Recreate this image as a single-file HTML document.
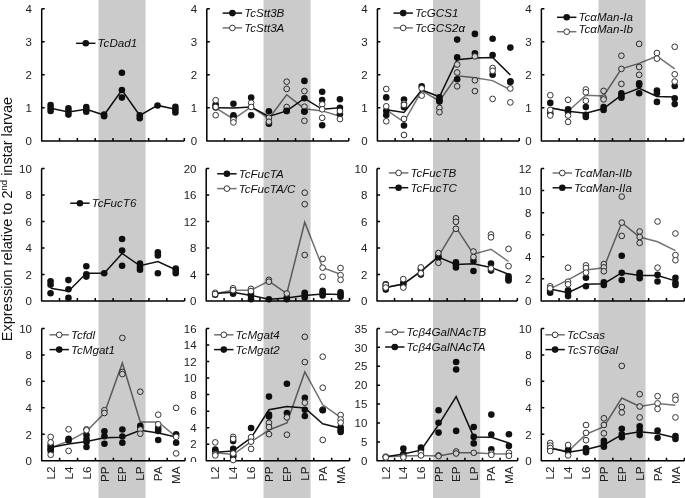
<!DOCTYPE html><html><head><meta charset="utf-8"><style>html,body{margin:0;padding:0;background:#fff;width:685px;height:498px;overflow:hidden}svg{display:block;will-change:transform;filter:blur(0.3px)}text{font-family:"Liberation Sans",sans-serif}</style></head><body>
<svg width="685" height="498" viewBox="0 0 685 498">
<defs><clipPath id="cz"><rect x="180" y="450" width="30" height="12"/></clipPath></defs>
<path d="M41.70,8.70V140.90H184.30M41.70,140.90h3M41.70,107.85h3M41.70,74.80h3M41.70,41.75h3M41.70,8.70h3M59.53,140.90v-3M77.35,140.90v-3M95.18,140.90v-3M113.00,140.90v-3M130.83,140.90v-3M148.65,140.90v-3M166.48,140.90v-3M184.30,140.90v-3" fill="none" stroke="#000" stroke-width="1.5" stroke-linejoin="round"/>
<text x="32.00" y="145.10" font-size="11.5" text-anchor="end" fill="#222">0</text>
<text x="32.00" y="112.05" font-size="11.5" text-anchor="end" fill="#222">1</text>
<text x="32.00" y="79.00" font-size="11.5" text-anchor="end" fill="#222">2</text>
<text x="32.00" y="45.95" font-size="11.5" text-anchor="end" fill="#222">3</text>
<text x="32.00" y="12.90" font-size="11.5" text-anchor="end" fill="#222">4</text>
<polyline points="50.61,108.30 68.44,111.90 86.26,109.30 104.09,115.00 121.91,90.00 139.74,115.40 157.56,105.40 175.39,109.30" fill="none" stroke="#111" stroke-width="1.5"/>
<circle cx="50.61" cy="105.00" r="3.3" fill="#111"/>
<circle cx="50.61" cy="108.00" r="3.3" fill="#111"/>
<circle cx="50.61" cy="111.00" r="3.3" fill="#111"/>
<circle cx="68.44" cy="108.40" r="3.3" fill="#111"/>
<circle cx="68.44" cy="111.50" r="3.3" fill="#111"/>
<circle cx="68.44" cy="114.60" r="3.3" fill="#111"/>
<circle cx="86.26" cy="107.00" r="3.3" fill="#111"/>
<circle cx="86.26" cy="109.40" r="3.3" fill="#111"/>
<circle cx="86.26" cy="111.80" r="3.3" fill="#111"/>
<circle cx="104.09" cy="114.50" r="3.3" fill="#111"/>
<circle cx="104.09" cy="116.30" r="3.3" fill="#111"/>
<circle cx="121.91" cy="72.70" r="3.3" fill="#111"/>
<circle cx="121.91" cy="90.00" r="3.3" fill="#111"/>
<circle cx="121.91" cy="97.60" r="3.3" fill="#111"/>
<circle cx="139.74" cy="115.20" r="3.3" fill="#111"/>
<circle cx="139.74" cy="118.30" r="3.3" fill="#111"/>
<circle cx="157.56" cy="105.50" r="3.3" fill="#111"/>
<circle cx="175.39" cy="106.70" r="3.3" fill="#111"/>
<circle cx="175.39" cy="109.50" r="3.3" fill="#111"/>
<circle cx="175.39" cy="112.40" r="3.3" fill="#111"/>
<path d="M76.10,43.30h19.4" stroke="#111" stroke-width="1.5"/>
<circle cx="85.80" cy="43.30" r="3.3" fill="#111"/>
<text x="97.60" y="47.20" font-size="11.6" font-style="italic" fill="#111">TcDad1</text>
<path d="M206.80,8.70V140.90H348.80M206.80,140.90h3M206.80,107.85h3M206.80,74.80h3M206.80,41.75h3M206.80,8.70h3M224.55,140.90v-3M242.30,140.90v-3M260.05,140.90v-3M277.80,140.90v-3M295.55,140.90v-3M313.30,140.90v-3M331.05,140.90v-3M348.80,140.90v-3" fill="none" stroke="#000" stroke-width="1.5" stroke-linejoin="round"/>
<text x="197.10" y="145.10" font-size="11.5" text-anchor="end" fill="#222">0</text>
<text x="197.10" y="112.05" font-size="11.5" text-anchor="end" fill="#222">1</text>
<text x="197.10" y="79.00" font-size="11.5" text-anchor="end" fill="#222">2</text>
<text x="197.10" y="45.95" font-size="11.5" text-anchor="end" fill="#222">3</text>
<text x="197.10" y="12.90" font-size="11.5" text-anchor="end" fill="#222">4</text>
<polyline points="215.68,107.80 233.43,119.00 251.18,107.00 268.93,118.50 286.68,94.70 304.43,108.70 322.18,110.90 339.93,116.30" fill="none" stroke="#727272" stroke-width="1.5"/>
<polyline points="215.68,107.80 233.43,108.00 251.18,107.00 268.93,116.50 286.68,110.90 304.43,98.30 322.18,109.30 339.93,107.80" fill="none" stroke="#111" stroke-width="1.5"/>
<circle cx="215.68" cy="104.50" r="3.3" fill="#111"/>
<circle cx="215.68" cy="106.50" r="3.3" fill="#111"/>
<circle cx="215.68" cy="107.50" r="3.3" fill="#111"/>
<circle cx="233.43" cy="103.70" r="3.3" fill="#111"/>
<circle cx="233.43" cy="115.20" r="3.3" fill="#111"/>
<circle cx="233.43" cy="117.20" r="3.3" fill="#111"/>
<circle cx="251.18" cy="97.60" r="3.3" fill="#111"/>
<circle cx="251.18" cy="115.20" r="3.3" fill="#111"/>
<circle cx="268.93" cy="111.30" r="3.3" fill="#111"/>
<circle cx="268.93" cy="123.70" r="3.3" fill="#111"/>
<circle cx="286.68" cy="110.90" r="3.3" fill="#111"/>
<circle cx="304.43" cy="80.90" r="3.3" fill="#111"/>
<circle cx="304.43" cy="98.30" r="3.3" fill="#111"/>
<circle cx="304.43" cy="111.60" r="3.3" fill="#111"/>
<circle cx="322.18" cy="91.70" r="3.3" fill="#111"/>
<circle cx="322.18" cy="100.00" r="3.3" fill="#111"/>
<circle cx="322.18" cy="125.30" r="3.3" fill="#111"/>
<circle cx="339.93" cy="99.30" r="3.3" fill="#111"/>
<circle cx="339.93" cy="107.80" r="3.3" fill="#111"/>
<circle cx="339.93" cy="114.30" r="3.3" fill="#111"/>
<circle cx="215.68" cy="100.20" r="2.8499999999999996" fill="#fff" stroke="#333" stroke-width="1"/>
<circle cx="215.68" cy="107.00" r="2.8499999999999996" fill="#fff" stroke="#333" stroke-width="1"/>
<circle cx="215.68" cy="115.20" r="2.8499999999999996" fill="#fff" stroke="#333" stroke-width="1"/>
<circle cx="233.43" cy="119.80" r="2.8499999999999996" fill="#fff" stroke="#333" stroke-width="1"/>
<circle cx="233.43" cy="122.40" r="2.8499999999999996" fill="#fff" stroke="#333" stroke-width="1"/>
<circle cx="251.18" cy="102.80" r="2.8499999999999996" fill="#fff" stroke="#333" stroke-width="1"/>
<circle cx="251.18" cy="107.00" r="2.8499999999999996" fill="#fff" stroke="#333" stroke-width="1"/>
<circle cx="268.93" cy="117.80" r="2.8499999999999996" fill="#fff" stroke="#333" stroke-width="1"/>
<circle cx="268.93" cy="121.70" r="2.8499999999999996" fill="#fff" stroke="#333" stroke-width="1"/>
<circle cx="286.68" cy="81.70" r="2.8499999999999996" fill="#fff" stroke="#333" stroke-width="1"/>
<circle cx="286.68" cy="88.90" r="2.8499999999999996" fill="#fff" stroke="#333" stroke-width="1"/>
<circle cx="286.68" cy="107.00" r="2.8499999999999996" fill="#fff" stroke="#333" stroke-width="1"/>
<circle cx="304.43" cy="91.10" r="2.8499999999999996" fill="#fff" stroke="#333" stroke-width="1"/>
<circle cx="304.43" cy="106.70" r="2.8499999999999996" fill="#fff" stroke="#333" stroke-width="1"/>
<circle cx="304.43" cy="120.80" r="2.8499999999999996" fill="#fff" stroke="#333" stroke-width="1"/>
<circle cx="322.18" cy="104.40" r="2.8499999999999996" fill="#fff" stroke="#333" stroke-width="1"/>
<circle cx="322.18" cy="109.30" r="2.8499999999999996" fill="#fff" stroke="#333" stroke-width="1"/>
<circle cx="322.18" cy="117.80" r="2.8499999999999996" fill="#fff" stroke="#333" stroke-width="1"/>
<circle cx="339.93" cy="111.00" r="2.8499999999999996" fill="#fff" stroke="#333" stroke-width="1"/>
<circle cx="339.93" cy="119.10" r="2.8499999999999996" fill="#fff" stroke="#333" stroke-width="1"/>
<circle cx="286.68" cy="110.90" r="3.3" fill="#111"/>
<circle cx="304.43" cy="111.60" r="3.3" fill="#111"/>
<path d="M222.70,13.10h19.4" stroke="#111" stroke-width="1.5"/>
<circle cx="232.40" cy="13.10" r="3.3" fill="#111"/>
<text x="244.20" y="17.00" font-size="11.6" font-style="italic" fill="#111">TcStt3B</text>
<path d="M222.70,27.90h19.4" stroke="#727272" stroke-width="1.5"/>
<circle cx="232.40" cy="27.90" r="2.8499999999999996" fill="#fff" stroke="#333" stroke-width="1"/>
<text x="244.20" y="31.80" font-size="11.6" font-style="italic" fill="#111">TcStt3A</text>
<path d="M377.40,8.70V140.90H519.20M377.40,140.90h3M377.40,107.85h3M377.40,74.80h3M377.40,41.75h3M377.40,8.70h3M395.12,140.90v-3M412.85,140.90v-3M430.57,140.90v-3M448.30,140.90v-3M466.03,140.90v-3M483.75,140.90v-3M501.48,140.90v-3M519.20,140.90v-3" fill="none" stroke="#000" stroke-width="1.5" stroke-linejoin="round"/>
<text x="367.70" y="145.10" font-size="11.5" text-anchor="end" fill="#222">0</text>
<text x="367.70" y="112.05" font-size="11.5" text-anchor="end" fill="#222">1</text>
<text x="367.70" y="79.00" font-size="11.5" text-anchor="end" fill="#222">2</text>
<text x="367.70" y="45.95" font-size="11.5" text-anchor="end" fill="#222">3</text>
<text x="367.70" y="12.90" font-size="11.5" text-anchor="end" fill="#222">4</text>
<polyline points="386.26,109.80 403.99,122.00 421.71,90.80 439.44,101.00 457.16,75.70 474.89,77.80 492.61,80.60 510.34,89.80" fill="none" stroke="#727272" stroke-width="1.5"/>
<polyline points="386.26,109.80 403.99,112.50 421.71,90.00 439.44,96.70 457.16,59.80 474.89,58.10 492.61,57.40 510.34,75.00" fill="none" stroke="#111" stroke-width="1.5"/>
<circle cx="386.26" cy="97.40" r="3.3" fill="#111"/>
<circle cx="386.26" cy="110.80" r="3.3" fill="#111"/>
<circle cx="386.26" cy="115.00" r="3.3" fill="#111"/>
<circle cx="403.99" cy="99.50" r="3.3" fill="#111"/>
<circle cx="403.99" cy="107.30" r="3.3" fill="#111"/>
<circle cx="403.99" cy="125.50" r="3.3" fill="#111"/>
<circle cx="421.71" cy="86.20" r="3.3" fill="#111"/>
<circle cx="439.44" cy="97.40" r="3.3" fill="#111"/>
<circle cx="439.44" cy="100.20" r="3.3" fill="#111"/>
<circle cx="439.44" cy="101.60" r="3.3" fill="#111"/>
<circle cx="457.16" cy="39.60" r="3.3" fill="#111"/>
<circle cx="457.16" cy="57.40" r="3.3" fill="#111"/>
<circle cx="457.16" cy="79.20" r="3.3" fill="#111"/>
<circle cx="474.89" cy="33.90" r="3.3" fill="#111"/>
<circle cx="474.89" cy="53.20" r="3.3" fill="#111"/>
<circle cx="492.61" cy="38.70" r="3.3" fill="#111"/>
<circle cx="492.61" cy="55.00" r="3.3" fill="#111"/>
<circle cx="492.61" cy="74.70" r="3.3" fill="#111"/>
<circle cx="510.34" cy="47.60" r="3.3" fill="#111"/>
<circle cx="510.34" cy="81.30" r="3.3" fill="#111"/>
<circle cx="510.34" cy="82.00" r="3.3" fill="#111"/>
<circle cx="386.26" cy="89.00" r="2.8499999999999996" fill="#fff" stroke="#333" stroke-width="1"/>
<circle cx="386.26" cy="106.30" r="2.8499999999999996" fill="#fff" stroke="#333" stroke-width="1"/>
<circle cx="386.26" cy="121.30" r="2.8499999999999996" fill="#fff" stroke="#333" stroke-width="1"/>
<circle cx="403.99" cy="103.50" r="2.8499999999999996" fill="#fff" stroke="#333" stroke-width="1"/>
<circle cx="403.99" cy="104.90" r="2.8499999999999996" fill="#fff" stroke="#333" stroke-width="1"/>
<circle cx="403.99" cy="118.90" r="2.8499999999999996" fill="#fff" stroke="#333" stroke-width="1"/>
<circle cx="403.99" cy="135.00" r="2.8499999999999996" fill="#fff" stroke="#333" stroke-width="1"/>
<circle cx="421.71" cy="88.30" r="2.8499999999999996" fill="#fff" stroke="#333" stroke-width="1"/>
<circle cx="421.71" cy="95.60" r="2.8499999999999996" fill="#fff" stroke="#333" stroke-width="1"/>
<circle cx="439.44" cy="108.00" r="2.8499999999999996" fill="#fff" stroke="#333" stroke-width="1"/>
<circle cx="439.44" cy="112.20" r="2.8499999999999996" fill="#fff" stroke="#333" stroke-width="1"/>
<circle cx="457.16" cy="64.50" r="2.8499999999999996" fill="#fff" stroke="#333" stroke-width="1"/>
<circle cx="457.16" cy="72.50" r="2.8499999999999996" fill="#fff" stroke="#333" stroke-width="1"/>
<circle cx="457.16" cy="86.30" r="2.8499999999999996" fill="#fff" stroke="#333" stroke-width="1"/>
<circle cx="474.89" cy="56.40" r="2.8499999999999996" fill="#fff" stroke="#333" stroke-width="1"/>
<circle cx="474.89" cy="80.30" r="2.8499999999999996" fill="#fff" stroke="#333" stroke-width="1"/>
<circle cx="474.89" cy="91.10" r="2.8499999999999996" fill="#fff" stroke="#333" stroke-width="1"/>
<circle cx="492.61" cy="68.00" r="2.8499999999999996" fill="#fff" stroke="#333" stroke-width="1"/>
<circle cx="492.61" cy="70.80" r="2.8499999999999996" fill="#fff" stroke="#333" stroke-width="1"/>
<circle cx="492.61" cy="98.90" r="2.8499999999999996" fill="#fff" stroke="#333" stroke-width="1"/>
<circle cx="510.34" cy="88.50" r="2.8499999999999996" fill="#fff" stroke="#333" stroke-width="1"/>
<circle cx="510.34" cy="102.40" r="2.8499999999999996" fill="#fff" stroke="#333" stroke-width="1"/>
<path d="M393.50,13.10h19.4" stroke="#111" stroke-width="1.5"/>
<circle cx="403.20" cy="13.10" r="3.3" fill="#111"/>
<text x="415.00" y="17.00" font-size="11.6" font-style="italic" fill="#111">TcGCS1</text>
<path d="M393.50,27.90h19.4" stroke="#727272" stroke-width="1.5"/>
<circle cx="403.20" cy="27.90" r="2.8499999999999996" fill="#fff" stroke="#333" stroke-width="1"/>
<text x="415.00" y="31.80" font-size="11.6" font-style="italic" fill="#111">TcGCS2α</text>
<path d="M541.40,8.70V140.90H683.60M541.40,140.90h3M541.40,107.85h3M541.40,74.80h3M541.40,41.75h3M541.40,8.70h3M559.17,140.90v-3M576.95,140.90v-3M594.73,140.90v-3M612.50,140.90v-3M630.27,140.90v-3M648.05,140.90v-3M665.83,140.90v-3M683.60,140.90v-3" fill="none" stroke="#000" stroke-width="1.5" stroke-linejoin="round"/>
<text x="531.70" y="145.10" font-size="11.5" text-anchor="end" fill="#222">0</text>
<text x="531.70" y="112.05" font-size="11.5" text-anchor="end" fill="#222">1</text>
<text x="531.70" y="79.00" font-size="11.5" text-anchor="end" fill="#222">2</text>
<text x="531.70" y="45.95" font-size="11.5" text-anchor="end" fill="#222">3</text>
<text x="531.70" y="12.90" font-size="11.5" text-anchor="end" fill="#222">4</text>
<polyline points="550.29,107.80 568.06,111.30 585.84,95.20 603.61,95.90 621.39,68.90 639.16,63.40 656.94,56.20 674.71,68.90" fill="none" stroke="#727272" stroke-width="1.5"/>
<polyline points="550.29,107.80 568.06,111.30 585.84,113.20 603.61,108.50 621.39,95.10 639.16,88.20 656.94,96.50 674.71,96.90" fill="none" stroke="#111" stroke-width="1.5"/>
<circle cx="550.29" cy="102.90" r="3.3" fill="#111"/>
<circle cx="550.29" cy="113.40" r="3.3" fill="#111"/>
<circle cx="568.06" cy="109.20" r="3.3" fill="#111"/>
<circle cx="568.06" cy="112.00" r="3.3" fill="#111"/>
<circle cx="585.84" cy="107.10" r="3.3" fill="#111"/>
<circle cx="585.84" cy="114.80" r="3.3" fill="#111"/>
<circle cx="585.84" cy="117.00" r="3.3" fill="#111"/>
<circle cx="603.61" cy="107.10" r="3.3" fill="#111"/>
<circle cx="603.61" cy="109.90" r="3.3" fill="#111"/>
<circle cx="621.39" cy="93.30" r="3.3" fill="#111"/>
<circle cx="621.39" cy="96.00" r="3.3" fill="#111"/>
<circle cx="621.39" cy="97.80" r="3.3" fill="#111"/>
<circle cx="639.16" cy="83.30" r="3.3" fill="#111"/>
<circle cx="639.16" cy="85.10" r="3.3" fill="#111"/>
<circle cx="639.16" cy="93.30" r="3.3" fill="#111"/>
<circle cx="656.94" cy="90.50" r="3.3" fill="#111"/>
<circle cx="656.94" cy="93.30" r="3.3" fill="#111"/>
<circle cx="656.94" cy="101.90" r="3.3" fill="#111"/>
<circle cx="674.71" cy="86.00" r="3.3" fill="#111"/>
<circle cx="674.71" cy="98.30" r="3.3" fill="#111"/>
<circle cx="674.71" cy="104.10" r="3.3" fill="#111"/>
<circle cx="550.29" cy="95.20" r="2.8499999999999996" fill="#fff" stroke="#333" stroke-width="1"/>
<circle cx="550.29" cy="109.90" r="2.8499999999999996" fill="#fff" stroke="#333" stroke-width="1"/>
<circle cx="550.29" cy="115.50" r="2.8499999999999996" fill="#fff" stroke="#333" stroke-width="1"/>
<circle cx="568.06" cy="99.80" r="2.8499999999999996" fill="#fff" stroke="#333" stroke-width="1"/>
<circle cx="568.06" cy="115.50" r="2.8499999999999996" fill="#fff" stroke="#333" stroke-width="1"/>
<circle cx="568.06" cy="121.90" r="2.8499999999999996" fill="#fff" stroke="#333" stroke-width="1"/>
<circle cx="585.84" cy="89.50" r="2.8499999999999996" fill="#fff" stroke="#333" stroke-width="1"/>
<circle cx="585.84" cy="92.30" r="2.8499999999999996" fill="#fff" stroke="#333" stroke-width="1"/>
<circle cx="585.84" cy="100.80" r="2.8499999999999996" fill="#fff" stroke="#333" stroke-width="1"/>
<circle cx="603.61" cy="90.90" r="2.8499999999999996" fill="#fff" stroke="#333" stroke-width="1"/>
<circle cx="603.61" cy="97.70" r="2.8499999999999996" fill="#fff" stroke="#333" stroke-width="1"/>
<circle cx="603.61" cy="99.40" r="2.8499999999999996" fill="#fff" stroke="#333" stroke-width="1"/>
<circle cx="621.39" cy="55.70" r="2.8499999999999996" fill="#fff" stroke="#333" stroke-width="1"/>
<circle cx="621.39" cy="68.90" r="2.8499999999999996" fill="#fff" stroke="#333" stroke-width="1"/>
<circle cx="621.39" cy="83.90" r="2.8499999999999996" fill="#fff" stroke="#333" stroke-width="1"/>
<circle cx="639.16" cy="43.90" r="2.8499999999999996" fill="#fff" stroke="#333" stroke-width="1"/>
<circle cx="639.16" cy="67.00" r="2.8499999999999996" fill="#fff" stroke="#333" stroke-width="1"/>
<circle cx="639.16" cy="74.80" r="2.8499999999999996" fill="#fff" stroke="#333" stroke-width="1"/>
<circle cx="656.94" cy="53.00" r="2.8499999999999996" fill="#fff" stroke="#333" stroke-width="1"/>
<circle cx="656.94" cy="58.60" r="2.8499999999999996" fill="#fff" stroke="#333" stroke-width="1"/>
<circle cx="674.71" cy="46.80" r="2.8499999999999996" fill="#fff" stroke="#333" stroke-width="1"/>
<circle cx="674.71" cy="74.30" r="2.8499999999999996" fill="#fff" stroke="#333" stroke-width="1"/>
<circle cx="674.71" cy="81.50" r="2.8499999999999996" fill="#fff" stroke="#333" stroke-width="1"/>
<path d="M557.00,17.30h19.4" stroke="#111" stroke-width="1.5"/>
<circle cx="566.70" cy="17.30" r="3.3" fill="#111"/>
<text x="578.50" y="21.40" font-size="11.6" font-style="italic" fill="#111">TcαMan-Ia</text>
<path d="M557.00,31.70h19.4" stroke="#727272" stroke-width="1.5"/>
<circle cx="566.70" cy="31.70" r="2.8499999999999996" fill="#fff" stroke="#333" stroke-width="1"/>
<text x="578.50" y="32.90" font-size="11.6" font-style="italic" fill="#111">TcαMan-Ib</text>
<path d="M41.60,168.50V300.90H184.70M41.60,300.90h3M41.60,274.42h3M41.60,247.94h3M41.60,221.46h3M41.60,194.98h3M41.60,168.50h3M59.49,300.90v-3M77.38,300.90v-3M95.26,300.90v-3M113.15,300.90v-3M131.04,300.90v-3M148.92,300.90v-3M166.81,300.90v-3M184.70,300.90v-3" fill="none" stroke="#000" stroke-width="1.5" stroke-linejoin="round"/>
<text x="31.90" y="305.10" font-size="11.5" text-anchor="end" fill="#222">0</text>
<text x="31.90" y="278.62" font-size="11.5" text-anchor="end" fill="#222">2</text>
<text x="31.90" y="252.14" font-size="11.5" text-anchor="end" fill="#222">4</text>
<text x="31.90" y="225.66" font-size="11.5" text-anchor="end" fill="#222">6</text>
<text x="31.90" y="199.18" font-size="11.5" text-anchor="end" fill="#222">8</text>
<text x="31.90" y="172.70" font-size="11.5" text-anchor="end" fill="#222">10</text>
<polyline points="50.54,288.20 68.43,291.20 86.32,273.20 104.21,273.20 122.09,253.50 139.98,265.80 157.87,261.60 175.76,269.70" fill="none" stroke="#111" stroke-width="1.5"/>
<circle cx="50.54" cy="281.20" r="3.3" fill="#111"/>
<circle cx="50.54" cy="284.70" r="3.3" fill="#111"/>
<circle cx="50.54" cy="293.30" r="3.3" fill="#111"/>
<circle cx="68.43" cy="280.10" r="3.3" fill="#111"/>
<circle cx="68.43" cy="289.30" r="3.3" fill="#111"/>
<circle cx="68.43" cy="297.90" r="3.3" fill="#111"/>
<circle cx="86.32" cy="266.20" r="3.3" fill="#111"/>
<circle cx="86.32" cy="274.30" r="3.3" fill="#111"/>
<circle cx="86.32" cy="276.60" r="3.3" fill="#111"/>
<circle cx="104.21" cy="273.20" r="3.3" fill="#111"/>
<circle cx="122.09" cy="239.00" r="3.3" fill="#111"/>
<circle cx="122.09" cy="250.50" r="3.3" fill="#111"/>
<circle cx="122.09" cy="265.80" r="3.3" fill="#111"/>
<circle cx="139.98" cy="263.50" r="3.3" fill="#111"/>
<circle cx="139.98" cy="266.90" r="3.3" fill="#111"/>
<circle cx="139.98" cy="269.70" r="3.3" fill="#111"/>
<circle cx="157.87" cy="252.40" r="3.3" fill="#111"/>
<circle cx="157.87" cy="255.40" r="3.3" fill="#111"/>
<circle cx="157.87" cy="273.20" r="3.3" fill="#111"/>
<circle cx="175.76" cy="268.50" r="3.3" fill="#111"/>
<circle cx="175.76" cy="270.80" r="3.3" fill="#111"/>
<circle cx="175.76" cy="273.20" r="3.3" fill="#111"/>
<path d="M70.20,203.20h19.4" stroke="#111" stroke-width="1.5"/>
<circle cx="79.90" cy="203.20" r="3.3" fill="#111"/>
<text x="91.70" y="207.10" font-size="11.6" font-style="italic" fill="#111">TcFucT6</text>
<path d="M206.20,168.50V300.90H349.50M206.20,300.90h3M206.20,274.42h3M206.20,247.94h3M206.20,221.46h3M206.20,194.98h3M206.20,168.50h3M224.11,300.90v-3M242.02,300.90v-3M259.94,300.90v-3M277.85,300.90v-3M295.76,300.90v-3M313.68,300.90v-3M331.59,300.90v-3M349.50,300.90v-3" fill="none" stroke="#000" stroke-width="1.5" stroke-linejoin="round"/>
<text x="196.50" y="305.10" font-size="11.5" text-anchor="end" fill="#222">0</text>
<text x="196.50" y="278.62" font-size="11.5" text-anchor="end" fill="#222">4</text>
<text x="196.50" y="252.14" font-size="11.5" text-anchor="end" fill="#222">8</text>
<text x="196.50" y="225.66" font-size="11.5" text-anchor="end" fill="#222">12</text>
<text x="196.50" y="199.18" font-size="11.5" text-anchor="end" fill="#222">16</text>
<text x="196.50" y="172.70" font-size="11.5" text-anchor="end" fill="#222">20</text>
<polyline points="215.16,293.50 233.07,290.20 250.98,290.20 268.89,281.10 286.81,293.50 304.72,222.20 322.63,267.70 340.54,274.20" fill="none" stroke="#727272" stroke-width="1.5"/>
<polyline points="215.16,293.50 233.07,292.20 250.98,295.40 268.89,299.30 286.81,298.00 304.72,295.40 322.63,294.10 340.54,294.50" fill="none" stroke="#111" stroke-width="1.5"/>
<circle cx="215.16" cy="294.80" r="3.3" fill="#111"/>
<circle cx="233.07" cy="292.20" r="3.3" fill="#111"/>
<circle cx="233.07" cy="293.70" r="3.3" fill="#111"/>
<circle cx="250.98" cy="293.50" r="3.3" fill="#111"/>
<circle cx="250.98" cy="295.40" r="3.3" fill="#111"/>
<circle cx="250.98" cy="299.30" r="3.3" fill="#111"/>
<circle cx="268.89" cy="299.30" r="3.3" fill="#111"/>
<circle cx="286.81" cy="297.40" r="3.3" fill="#111"/>
<circle cx="286.81" cy="299.30" r="3.3" fill="#111"/>
<circle cx="304.72" cy="292.80" r="3.3" fill="#111"/>
<circle cx="304.72" cy="294.80" r="3.3" fill="#111"/>
<circle cx="304.72" cy="297.40" r="3.3" fill="#111"/>
<circle cx="322.63" cy="290.90" r="3.3" fill="#111"/>
<circle cx="322.63" cy="292.80" r="3.3" fill="#111"/>
<circle cx="322.63" cy="295.40" r="3.3" fill="#111"/>
<circle cx="340.54" cy="292.20" r="3.3" fill="#111"/>
<circle cx="340.54" cy="294.80" r="3.3" fill="#111"/>
<circle cx="340.54" cy="296.70" r="3.3" fill="#111"/>
<circle cx="215.16" cy="292.80" r="2.8499999999999996" fill="#fff" stroke="#333" stroke-width="1"/>
<circle cx="215.16" cy="294.10" r="2.8499999999999996" fill="#fff" stroke="#333" stroke-width="1"/>
<circle cx="233.07" cy="288.30" r="2.8499999999999996" fill="#fff" stroke="#333" stroke-width="1"/>
<circle cx="233.07" cy="290.20" r="2.8499999999999996" fill="#fff" stroke="#333" stroke-width="1"/>
<circle cx="250.98" cy="288.90" r="2.8499999999999996" fill="#fff" stroke="#333" stroke-width="1"/>
<circle cx="250.98" cy="291.10" r="2.8499999999999996" fill="#fff" stroke="#333" stroke-width="1"/>
<circle cx="268.89" cy="279.80" r="2.8499999999999996" fill="#fff" stroke="#333" stroke-width="1"/>
<circle cx="268.89" cy="281.70" r="2.8499999999999996" fill="#fff" stroke="#333" stroke-width="1"/>
<circle cx="286.81" cy="293.50" r="2.8499999999999996" fill="#fff" stroke="#333" stroke-width="1"/>
<circle cx="304.72" cy="192.70" r="2.8499999999999996" fill="#fff" stroke="#333" stroke-width="1"/>
<circle cx="304.72" cy="204.20" r="2.8499999999999996" fill="#fff" stroke="#333" stroke-width="1"/>
<circle cx="304.72" cy="255.00" r="2.8499999999999996" fill="#fff" stroke="#333" stroke-width="1"/>
<circle cx="322.63" cy="258.90" r="2.8499999999999996" fill="#fff" stroke="#333" stroke-width="1"/>
<circle cx="322.63" cy="267.70" r="2.8499999999999996" fill="#fff" stroke="#333" stroke-width="1"/>
<circle cx="322.63" cy="276.80" r="2.8499999999999996" fill="#fff" stroke="#333" stroke-width="1"/>
<circle cx="340.54" cy="268.00" r="2.8499999999999996" fill="#fff" stroke="#333" stroke-width="1"/>
<circle cx="340.54" cy="275.20" r="2.8499999999999996" fill="#fff" stroke="#333" stroke-width="1"/>
<circle cx="340.54" cy="279.80" r="2.8499999999999996" fill="#fff" stroke="#333" stroke-width="1"/>
<path d="M217.20,173.80h19.4" stroke="#111" stroke-width="1.5"/>
<circle cx="226.90" cy="173.80" r="3.3" fill="#111"/>
<text x="238.70" y="177.70" font-size="11.6" font-style="italic" fill="#111">TcFucTA</text>
<path d="M217.20,188.60h19.4" stroke="#727272" stroke-width="1.5"/>
<circle cx="226.90" cy="188.60" r="2.8499999999999996" fill="#fff" stroke="#333" stroke-width="1"/>
<text x="238.70" y="192.50" font-size="11.6" font-style="italic" fill="#111">TcFucTA/C</text>
<path d="M377.00,168.50V300.90H517.30M377.00,300.90h3M377.00,274.42h3M377.00,247.94h3M377.00,221.46h3M377.00,194.98h3M377.00,168.50h3M394.54,300.90v-3M412.07,300.90v-3M429.61,300.90v-3M447.15,300.90v-3M464.69,300.90v-3M482.22,300.90v-3M499.76,300.90v-3M517.30,300.90v-3" fill="none" stroke="#000" stroke-width="1.5" stroke-linejoin="round"/>
<text x="367.30" y="305.10" font-size="11.5" text-anchor="end" fill="#222">0</text>
<text x="367.30" y="278.62" font-size="11.5" text-anchor="end" fill="#222">2</text>
<text x="367.30" y="252.14" font-size="11.5" text-anchor="end" fill="#222">4</text>
<text x="367.30" y="225.66" font-size="11.5" text-anchor="end" fill="#222">6</text>
<text x="367.30" y="199.18" font-size="11.5" text-anchor="end" fill="#222">8</text>
<text x="367.30" y="172.70" font-size="11.5" text-anchor="end" fill="#222">10</text>
<polyline points="385.77,287.60 403.31,284.10 420.84,271.30 438.38,256.30 455.92,227.40 473.46,254.10 490.99,249.20 508.53,261.50" fill="none" stroke="#727272" stroke-width="1.5"/>
<polyline points="385.77,287.60 403.31,284.10 420.84,271.30 438.38,257.00 455.92,264.50 473.46,263.70 490.99,267.40 508.53,274.20" fill="none" stroke="#111" stroke-width="1.5"/>
<circle cx="385.77" cy="284.30" r="3.3" fill="#111"/>
<circle cx="385.77" cy="287.00" r="3.3" fill="#111"/>
<circle cx="385.77" cy="289.60" r="3.3" fill="#111"/>
<circle cx="403.31" cy="283.00" r="3.3" fill="#111"/>
<circle cx="403.31" cy="285.00" r="3.3" fill="#111"/>
<circle cx="420.84" cy="269.30" r="3.3" fill="#111"/>
<circle cx="420.84" cy="274.60" r="3.3" fill="#111"/>
<circle cx="438.38" cy="256.30" r="3.3" fill="#111"/>
<circle cx="438.38" cy="257.60" r="3.3" fill="#111"/>
<circle cx="455.92" cy="262.20" r="3.3" fill="#111"/>
<circle cx="455.92" cy="264.80" r="3.3" fill="#111"/>
<circle cx="455.92" cy="267.40" r="3.3" fill="#111"/>
<circle cx="473.46" cy="260.90" r="3.3" fill="#111"/>
<circle cx="473.46" cy="271.00" r="3.3" fill="#111"/>
<circle cx="490.99" cy="263.50" r="3.3" fill="#111"/>
<circle cx="490.99" cy="270.60" r="3.3" fill="#111"/>
<circle cx="508.53" cy="276.30" r="3.3" fill="#111"/>
<circle cx="508.53" cy="278.90" r="3.3" fill="#111"/>
<circle cx="508.53" cy="280.40" r="3.3" fill="#111"/>
<circle cx="385.77" cy="285.00" r="2.8499999999999996" fill="#fff" stroke="#333" stroke-width="1"/>
<circle cx="385.77" cy="287.60" r="2.8499999999999996" fill="#fff" stroke="#333" stroke-width="1"/>
<circle cx="403.31" cy="279.10" r="2.8499999999999996" fill="#fff" stroke="#333" stroke-width="1"/>
<circle cx="403.31" cy="287.60" r="2.8499999999999996" fill="#fff" stroke="#333" stroke-width="1"/>
<circle cx="420.84" cy="267.40" r="2.8499999999999996" fill="#fff" stroke="#333" stroke-width="1"/>
<circle cx="420.84" cy="273.30" r="2.8499999999999996" fill="#fff" stroke="#333" stroke-width="1"/>
<circle cx="438.38" cy="253.00" r="2.8499999999999996" fill="#fff" stroke="#333" stroke-width="1"/>
<circle cx="438.38" cy="262.80" r="2.8499999999999996" fill="#fff" stroke="#333" stroke-width="1"/>
<circle cx="455.92" cy="218.30" r="2.8499999999999996" fill="#fff" stroke="#333" stroke-width="1"/>
<circle cx="455.92" cy="221.80" r="2.8499999999999996" fill="#fff" stroke="#333" stroke-width="1"/>
<circle cx="455.92" cy="228.80" r="2.8499999999999996" fill="#fff" stroke="#333" stroke-width="1"/>
<circle cx="473.46" cy="251.50" r="2.8499999999999996" fill="#fff" stroke="#333" stroke-width="1"/>
<circle cx="473.46" cy="257.00" r="2.8499999999999996" fill="#fff" stroke="#333" stroke-width="1"/>
<circle cx="490.99" cy="234.50" r="2.8499999999999996" fill="#fff" stroke="#333" stroke-width="1"/>
<circle cx="490.99" cy="237.30" r="2.8499999999999996" fill="#fff" stroke="#333" stroke-width="1"/>
<circle cx="490.99" cy="268.40" r="2.8499999999999996" fill="#fff" stroke="#333" stroke-width="1"/>
<circle cx="508.53" cy="248.90" r="2.8499999999999996" fill="#fff" stroke="#333" stroke-width="1"/>
<circle cx="508.53" cy="266.10" r="2.8499999999999996" fill="#fff" stroke="#333" stroke-width="1"/>
<path d="M388.90,172.90h19.4" stroke="#727272" stroke-width="1.5"/>
<circle cx="398.60" cy="172.90" r="2.8499999999999996" fill="#fff" stroke="#333" stroke-width="1"/>
<text x="410.40" y="176.80" font-size="11.6" font-style="italic" fill="#111">TcFucTB</text>
<path d="M388.90,187.70h19.4" stroke="#111" stroke-width="1.5"/>
<circle cx="398.60" cy="187.70" r="3.3" fill="#111"/>
<text x="410.40" y="191.60" font-size="11.6" font-style="italic" fill="#111">TcFucTC</text>
<path d="M541.20,168.50V300.90H684.40M541.20,300.90h3M541.20,278.83h3M541.20,256.77h3M541.20,234.70h3M541.20,212.63h3M541.20,190.57h3M541.20,168.50h3M559.10,300.90v-3M577.00,300.90v-3M594.90,300.90v-3M612.80,300.90v-3M630.70,300.90v-3M648.60,300.90v-3M666.50,300.90v-3M684.40,300.90v-3" fill="none" stroke="#000" stroke-width="1.5" stroke-linejoin="round"/>
<text x="531.50" y="305.10" font-size="11.5" text-anchor="end" fill="#222">0</text>
<text x="531.50" y="283.03" font-size="11.5" text-anchor="end" fill="#222">2</text>
<text x="531.50" y="260.97" font-size="11.5" text-anchor="end" fill="#222">4</text>
<text x="531.50" y="238.90" font-size="11.5" text-anchor="end" fill="#222">6</text>
<text x="531.50" y="216.83" font-size="11.5" text-anchor="end" fill="#222">8</text>
<text x="531.50" y="194.77" font-size="11.5" text-anchor="end" fill="#222">10</text>
<text x="531.50" y="172.70" font-size="11.5" text-anchor="end" fill="#222">12</text>
<polyline points="550.15,288.90 568.05,279.80 585.95,270.00 603.85,267.70 621.75,222.60 639.65,237.00 657.55,241.80 675.45,250.70" fill="none" stroke="#727272" stroke-width="1.5"/>
<polyline points="550.15,288.90 568.05,292.80 585.95,284.30 603.85,283.70 621.75,272.70 639.65,275.60 657.55,275.60 675.45,280.90" fill="none" stroke="#111" stroke-width="1.5"/>
<circle cx="550.15" cy="290.20" r="3.3" fill="#111"/>
<circle cx="550.15" cy="292.80" r="3.3" fill="#111"/>
<circle cx="568.05" cy="290.20" r="3.3" fill="#111"/>
<circle cx="568.05" cy="292.20" r="3.3" fill="#111"/>
<circle cx="568.05" cy="296.10" r="3.3" fill="#111"/>
<circle cx="585.95" cy="277.80" r="3.3" fill="#111"/>
<circle cx="585.95" cy="286.30" r="3.3" fill="#111"/>
<circle cx="603.85" cy="282.40" r="3.3" fill="#111"/>
<circle cx="603.85" cy="285.00" r="3.3" fill="#111"/>
<circle cx="621.75" cy="255.70" r="3.3" fill="#111"/>
<circle cx="621.75" cy="272.70" r="3.3" fill="#111"/>
<circle cx="621.75" cy="280.00" r="3.3" fill="#111"/>
<circle cx="639.65" cy="272.70" r="3.3" fill="#111"/>
<circle cx="639.65" cy="274.90" r="3.3" fill="#111"/>
<circle cx="639.65" cy="278.20" r="3.3" fill="#111"/>
<circle cx="657.55" cy="274.90" r="3.3" fill="#111"/>
<circle cx="657.55" cy="281.50" r="3.3" fill="#111"/>
<circle cx="675.45" cy="277.80" r="3.3" fill="#111"/>
<circle cx="675.45" cy="282.70" r="3.3" fill="#111"/>
<circle cx="675.45" cy="284.90" r="3.3" fill="#111"/>
<circle cx="550.15" cy="286.30" r="2.8499999999999996" fill="#fff" stroke="#333" stroke-width="1"/>
<circle cx="550.15" cy="288.30" r="2.8499999999999996" fill="#fff" stroke="#333" stroke-width="1"/>
<circle cx="568.05" cy="267.70" r="2.8499999999999996" fill="#fff" stroke="#333" stroke-width="1"/>
<circle cx="568.05" cy="281.70" r="2.8499999999999996" fill="#fff" stroke="#333" stroke-width="1"/>
<circle cx="568.05" cy="284.30" r="2.8499999999999996" fill="#fff" stroke="#333" stroke-width="1"/>
<circle cx="585.95" cy="265.40" r="2.8499999999999996" fill="#fff" stroke="#333" stroke-width="1"/>
<circle cx="585.95" cy="268.00" r="2.8499999999999996" fill="#fff" stroke="#333" stroke-width="1"/>
<circle cx="585.95" cy="272.60" r="2.8499999999999996" fill="#fff" stroke="#333" stroke-width="1"/>
<circle cx="603.85" cy="264.10" r="2.8499999999999996" fill="#fff" stroke="#333" stroke-width="1"/>
<circle cx="603.85" cy="267.40" r="2.8499999999999996" fill="#fff" stroke="#333" stroke-width="1"/>
<circle cx="603.85" cy="271.30" r="2.8499999999999996" fill="#fff" stroke="#333" stroke-width="1"/>
<circle cx="621.75" cy="196.60" r="2.8499999999999996" fill="#fff" stroke="#333" stroke-width="1"/>
<circle cx="621.75" cy="222.60" r="2.8499999999999996" fill="#fff" stroke="#333" stroke-width="1"/>
<circle cx="621.75" cy="235.90" r="2.8499999999999996" fill="#fff" stroke="#333" stroke-width="1"/>
<circle cx="639.65" cy="231.50" r="2.8499999999999996" fill="#fff" stroke="#333" stroke-width="1"/>
<circle cx="639.65" cy="237.00" r="2.8499999999999996" fill="#fff" stroke="#333" stroke-width="1"/>
<circle cx="639.65" cy="242.90" r="2.8499999999999996" fill="#fff" stroke="#333" stroke-width="1"/>
<circle cx="657.55" cy="221.50" r="2.8499999999999996" fill="#fff" stroke="#333" stroke-width="1"/>
<circle cx="657.55" cy="267.70" r="2.8499999999999996" fill="#fff" stroke="#333" stroke-width="1"/>
<circle cx="675.45" cy="233.50" r="2.8499999999999996" fill="#fff" stroke="#333" stroke-width="1"/>
<circle cx="675.45" cy="255.10" r="2.8499999999999996" fill="#fff" stroke="#333" stroke-width="1"/>
<circle cx="675.45" cy="260.20" r="2.8499999999999996" fill="#fff" stroke="#333" stroke-width="1"/>
<path d="M552.60,173.00h19.4" stroke="#727272" stroke-width="1.5"/>
<circle cx="562.30" cy="173.00" r="2.8499999999999996" fill="#fff" stroke="#333" stroke-width="1"/>
<text x="574.10" y="176.90" font-size="11.6" font-style="italic" fill="#111">TcαMan-IIb</text>
<path d="M552.60,187.80h19.4" stroke="#111" stroke-width="1.5"/>
<circle cx="562.30" cy="187.80" r="3.3" fill="#111"/>
<text x="574.10" y="191.70" font-size="11.6" font-style="italic" fill="#111">TcαMan-IIa</text>
<path d="M41.70,328.40V460.80H185.10M41.70,460.80h3M41.70,434.32h3M41.70,407.84h3M41.70,381.36h3M41.70,354.88h3M41.70,328.40h3M59.62,460.80v-3M77.55,460.80v-3M95.47,460.80v-3M113.40,460.80v-3M131.32,460.80v-3M149.25,460.80v-3M167.17,460.80v-3M185.10,460.80v-3" fill="none" stroke="#000" stroke-width="1.5" stroke-linejoin="round"/>
<text x="32.00" y="465.00" font-size="11.5" text-anchor="end" fill="#222">0</text>
<text x="32.00" y="438.52" font-size="11.5" text-anchor="end" fill="#222">2</text>
<text x="32.00" y="412.04" font-size="11.5" text-anchor="end" fill="#222">4</text>
<text x="32.00" y="385.56" font-size="11.5" text-anchor="end" fill="#222">6</text>
<text x="32.00" y="359.08" font-size="11.5" text-anchor="end" fill="#222">8</text>
<text x="32.00" y="332.60" font-size="11.5" text-anchor="end" fill="#222">10</text>
<text transform="translate(54.76,466.40) rotate(-90) scale(1.05,1)" font-size="11.2" text-anchor="end" fill="#222">L2</text>
<text transform="translate(72.69,466.40) rotate(-90) scale(1.05,1)" font-size="11.2" text-anchor="end" fill="#222">L4</text>
<text transform="translate(90.61,466.40) rotate(-90) scale(1.05,1)" font-size="11.2" text-anchor="end" fill="#222">L6</text>
<text transform="translate(108.54,466.40) rotate(-90) scale(1.05,1)" font-size="11.2" text-anchor="end" fill="#222">PP</text>
<text transform="translate(126.46,466.40) rotate(-90) scale(1.05,1)" font-size="11.2" text-anchor="end" fill="#222">EP</text>
<text transform="translate(144.39,466.40) rotate(-90) scale(1.05,1)" font-size="11.2" text-anchor="end" fill="#222">LP</text>
<text transform="translate(162.31,466.40) rotate(-90) scale(1.05,1)" font-size="11.2" text-anchor="end" fill="#222">PA</text>
<text transform="translate(180.24,466.40) rotate(-90) scale(1.05,1)" font-size="11.2" text-anchor="end" fill="#222">MA</text>
<polyline points="50.66,447.60 68.59,441.10 86.51,431.30 104.44,413.00 122.36,363.00 140.29,422.00 158.21,422.00 176.14,436.90" fill="none" stroke="#727272" stroke-width="1.5"/>
<polyline points="50.66,447.60 68.59,444.10 86.51,441.50 104.44,437.80 122.36,437.20 140.29,430.20 158.21,433.00 176.14,436.90" fill="none" stroke="#111" stroke-width="1.5"/>
<circle cx="50.66" cy="445.00" r="3.3" fill="#111"/>
<circle cx="50.66" cy="447.00" r="3.3" fill="#111"/>
<circle cx="50.66" cy="449.30" r="3.3" fill="#111"/>
<circle cx="50.66" cy="450.90" r="3.3" fill="#111"/>
<circle cx="68.59" cy="438.90" r="3.3" fill="#111"/>
<circle cx="68.59" cy="440.40" r="3.3" fill="#111"/>
<circle cx="86.51" cy="435.00" r="3.3" fill="#111"/>
<circle cx="86.51" cy="439.10" r="3.3" fill="#111"/>
<circle cx="86.51" cy="442.00" r="3.3" fill="#111"/>
<circle cx="86.51" cy="447.00" r="3.3" fill="#111"/>
<circle cx="104.44" cy="431.30" r="3.3" fill="#111"/>
<circle cx="104.44" cy="436.30" r="3.3" fill="#111"/>
<circle cx="104.44" cy="443.70" r="3.3" fill="#111"/>
<circle cx="122.36" cy="429.50" r="3.3" fill="#111"/>
<circle cx="122.36" cy="436.50" r="3.3" fill="#111"/>
<circle cx="122.36" cy="442.80" r="3.3" fill="#111"/>
<circle cx="140.29" cy="425.90" r="3.3" fill="#111"/>
<circle cx="140.29" cy="428.00" r="3.3" fill="#111"/>
<circle cx="158.21" cy="428.00" r="3.3" fill="#111"/>
<circle cx="158.21" cy="430.90" r="3.3" fill="#111"/>
<circle cx="158.21" cy="440.00" r="3.3" fill="#111"/>
<circle cx="176.14" cy="434.40" r="3.3" fill="#111"/>
<circle cx="176.14" cy="442.80" r="3.3" fill="#111"/>
<circle cx="50.66" cy="436.90" r="2.8499999999999996" fill="#fff" stroke="#333" stroke-width="1"/>
<circle cx="50.66" cy="442.40" r="2.8499999999999996" fill="#fff" stroke="#333" stroke-width="1"/>
<circle cx="50.66" cy="454.80" r="2.8499999999999996" fill="#fff" stroke="#333" stroke-width="1"/>
<circle cx="68.59" cy="429.30" r="2.8499999999999996" fill="#fff" stroke="#333" stroke-width="1"/>
<circle cx="68.59" cy="450.90" r="2.8499999999999996" fill="#fff" stroke="#333" stroke-width="1"/>
<circle cx="86.51" cy="429.30" r="2.8499999999999996" fill="#fff" stroke="#333" stroke-width="1"/>
<circle cx="86.51" cy="430.30" r="2.8499999999999996" fill="#fff" stroke="#333" stroke-width="1"/>
<circle cx="104.44" cy="410.20" r="2.8499999999999996" fill="#fff" stroke="#333" stroke-width="1"/>
<circle cx="104.44" cy="413.00" r="2.8499999999999996" fill="#fff" stroke="#333" stroke-width="1"/>
<circle cx="122.36" cy="337.90" r="2.8499999999999996" fill="#fff" stroke="#333" stroke-width="1"/>
<circle cx="122.36" cy="372.00" r="2.8499999999999996" fill="#fff" stroke="#333" stroke-width="1"/>
<circle cx="122.36" cy="374.10" r="2.8499999999999996" fill="#fff" stroke="#333" stroke-width="1"/>
<circle cx="140.29" cy="391.70" r="2.8499999999999996" fill="#fff" stroke="#333" stroke-width="1"/>
<circle cx="140.29" cy="429.50" r="2.8499999999999996" fill="#fff" stroke="#333" stroke-width="1"/>
<circle cx="140.29" cy="433.70" r="2.8499999999999996" fill="#fff" stroke="#333" stroke-width="1"/>
<circle cx="158.21" cy="414.70" r="2.8499999999999996" fill="#fff" stroke="#333" stroke-width="1"/>
<circle cx="158.21" cy="424.30" r="2.8499999999999996" fill="#fff" stroke="#333" stroke-width="1"/>
<circle cx="176.14" cy="407.90" r="2.8499999999999996" fill="#fff" stroke="#333" stroke-width="1"/>
<circle cx="176.14" cy="436.90" r="2.8499999999999996" fill="#fff" stroke="#333" stroke-width="1"/>
<circle cx="176.14" cy="453.40" r="2.8499999999999996" fill="#fff" stroke="#333" stroke-width="1"/>
<path d="M49.50,334.80h19.4" stroke="#727272" stroke-width="1.5"/>
<circle cx="59.20" cy="334.80" r="2.8499999999999996" fill="#fff" stroke="#333" stroke-width="1"/>
<text x="71.00" y="338.70" font-size="11.6" font-style="italic" fill="#111">Tcfdl</text>
<path d="M49.50,349.60h19.4" stroke="#111" stroke-width="1.5"/>
<circle cx="59.20" cy="349.60" r="3.3" fill="#111"/>
<text x="71.00" y="353.50" font-size="11.6" font-style="italic" fill="#111">TcMgat1</text>
<path d="M206.30,328.40V460.80H349.60M206.30,460.80h3M206.30,444.25h3M206.30,427.70h3M206.30,411.15h3M206.30,394.60h3M206.30,378.05h3M206.30,361.50h3M206.30,344.95h3M206.30,328.40h3M224.21,460.80v-3M242.12,460.80v-3M260.04,460.80v-3M277.95,460.80v-3M295.86,460.80v-3M313.78,460.80v-3M331.69,460.80v-3M349.60,460.80v-3" fill="none" stroke="#000" stroke-width="1.5" stroke-linejoin="round"/>
<text x="196.60" y="465.00" font-size="11.5" text-anchor="end" fill="#222" clip-path="url(#cz)">0</text>
<text x="196.60" y="448.45" font-size="11.5" text-anchor="end" fill="#222">2</text>
<text x="196.60" y="431.90" font-size="11.5" text-anchor="end" fill="#222">4</text>
<text x="196.60" y="415.35" font-size="11.5" text-anchor="end" fill="#222">6</text>
<text x="196.60" y="398.80" font-size="11.5" text-anchor="end" fill="#222">8</text>
<text x="196.60" y="382.25" font-size="11.5" text-anchor="end" fill="#222">10</text>
<text x="196.60" y="365.70" font-size="11.5" text-anchor="end" fill="#222">12</text>
<text x="196.60" y="349.15" font-size="11.5" text-anchor="end" fill="#222">14</text>
<text x="196.60" y="332.60" font-size="11.5" text-anchor="end" fill="#222">16</text>
<text transform="translate(219.36,466.40) rotate(-90) scale(1.05,1)" font-size="11.2" text-anchor="end" fill="#222">L2</text>
<text transform="translate(237.27,466.40) rotate(-90) scale(1.05,1)" font-size="11.2" text-anchor="end" fill="#222">L4</text>
<text transform="translate(255.18,466.40) rotate(-90) scale(1.05,1)" font-size="11.2" text-anchor="end" fill="#222">L6</text>
<text transform="translate(273.09,466.40) rotate(-90) scale(1.05,1)" font-size="11.2" text-anchor="end" fill="#222">PP</text>
<text transform="translate(291.01,466.40) rotate(-90) scale(1.05,1)" font-size="11.2" text-anchor="end" fill="#222">EP</text>
<text transform="translate(308.92,466.40) rotate(-90) scale(1.05,1)" font-size="11.2" text-anchor="end" fill="#222">LP</text>
<text transform="translate(326.83,466.40) rotate(-90) scale(1.05,1)" font-size="11.2" text-anchor="end" fill="#222">PA</text>
<text transform="translate(344.74,466.40) rotate(-90) scale(1.05,1)" font-size="11.2" text-anchor="end" fill="#222">MA</text>
<polyline points="215.26,452.80 233.17,454.50 251.08,441.70 268.99,430.00 286.91,423.00 304.82,371.90 322.73,404.80 340.64,417.40" fill="none" stroke="#727272" stroke-width="1.5"/>
<polyline points="215.26,452.20 233.17,450.90 251.08,437.80 268.99,409.80 286.91,406.60 304.82,408.00 322.73,423.80 340.64,428.30" fill="none" stroke="#111" stroke-width="1.5"/>
<circle cx="215.26" cy="449.60" r="3.3" fill="#111"/>
<circle cx="215.26" cy="451.10" r="3.3" fill="#111"/>
<circle cx="233.17" cy="441.10" r="3.3" fill="#111"/>
<circle cx="233.17" cy="448.90" r="3.3" fill="#111"/>
<circle cx="233.17" cy="455.40" r="3.3" fill="#111"/>
<circle cx="233.17" cy="456.70" r="3.3" fill="#111"/>
<circle cx="251.08" cy="428.00" r="3.3" fill="#111"/>
<circle cx="268.99" cy="396.60" r="3.3" fill="#111"/>
<circle cx="268.99" cy="414.60" r="3.3" fill="#111"/>
<circle cx="268.99" cy="416.60" r="3.3" fill="#111"/>
<circle cx="286.91" cy="383.80" r="3.3" fill="#111"/>
<circle cx="286.91" cy="413.10" r="3.3" fill="#111"/>
<circle cx="304.82" cy="397.70" r="3.3" fill="#111"/>
<circle cx="304.82" cy="409.70" r="3.3" fill="#111"/>
<circle cx="304.82" cy="416.00" r="3.3" fill="#111"/>
<circle cx="322.73" cy="410.00" r="3.3" fill="#111"/>
<circle cx="340.64" cy="427.30" r="3.3" fill="#111"/>
<circle cx="340.64" cy="430.10" r="3.3" fill="#111"/>
<circle cx="340.64" cy="431.90" r="3.3" fill="#111"/>
<circle cx="215.26" cy="442.40" r="2.8499999999999996" fill="#fff" stroke="#333" stroke-width="1"/>
<circle cx="215.26" cy="454.10" r="2.8499999999999996" fill="#fff" stroke="#333" stroke-width="1"/>
<circle cx="215.26" cy="455.40" r="2.8499999999999996" fill="#fff" stroke="#333" stroke-width="1"/>
<circle cx="233.17" cy="436.90" r="2.8499999999999996" fill="#fff" stroke="#333" stroke-width="1"/>
<circle cx="233.17" cy="438.90" r="2.8499999999999996" fill="#fff" stroke="#333" stroke-width="1"/>
<circle cx="233.17" cy="453.50" r="2.8499999999999996" fill="#fff" stroke="#333" stroke-width="1"/>
<circle cx="233.17" cy="460.00" r="2.8499999999999996" fill="#fff" stroke="#333" stroke-width="1"/>
<circle cx="251.08" cy="437.20" r="2.8499999999999996" fill="#fff" stroke="#333" stroke-width="1"/>
<circle cx="251.08" cy="441.70" r="2.8499999999999996" fill="#fff" stroke="#333" stroke-width="1"/>
<circle cx="251.08" cy="448.90" r="2.8499999999999996" fill="#fff" stroke="#333" stroke-width="1"/>
<circle cx="268.99" cy="422.80" r="2.8499999999999996" fill="#fff" stroke="#333" stroke-width="1"/>
<circle cx="268.99" cy="427.10" r="2.8499999999999996" fill="#fff" stroke="#333" stroke-width="1"/>
<circle cx="268.99" cy="434.20" r="2.8499999999999996" fill="#fff" stroke="#333" stroke-width="1"/>
<circle cx="286.91" cy="417.40" r="2.8499999999999996" fill="#fff" stroke="#333" stroke-width="1"/>
<circle cx="286.91" cy="434.70" r="2.8499999999999996" fill="#fff" stroke="#333" stroke-width="1"/>
<circle cx="304.82" cy="336.80" r="2.8499999999999996" fill="#fff" stroke="#333" stroke-width="1"/>
<circle cx="304.82" cy="362.10" r="2.8499999999999996" fill="#fff" stroke="#333" stroke-width="1"/>
<circle cx="304.82" cy="402.70" r="2.8499999999999996" fill="#fff" stroke="#333" stroke-width="1"/>
<circle cx="322.73" cy="356.70" r="2.8499999999999996" fill="#fff" stroke="#333" stroke-width="1"/>
<circle cx="322.73" cy="387.70" r="2.8499999999999996" fill="#fff" stroke="#333" stroke-width="1"/>
<circle cx="322.73" cy="409.50" r="2.8499999999999996" fill="#fff" stroke="#333" stroke-width="1"/>
<circle cx="322.73" cy="439.90" r="2.8499999999999996" fill="#fff" stroke="#333" stroke-width="1"/>
<circle cx="340.64" cy="415.00" r="2.8499999999999996" fill="#fff" stroke="#333" stroke-width="1"/>
<circle cx="340.64" cy="419.50" r="2.8499999999999996" fill="#fff" stroke="#333" stroke-width="1"/>
<circle cx="340.64" cy="422.60" r="2.8499999999999996" fill="#fff" stroke="#333" stroke-width="1"/>
<circle cx="322.73" cy="410.20" r="3.3" fill="#111"/>
<path d="M214.10,334.80h19.4" stroke="#727272" stroke-width="1.5"/>
<circle cx="223.80" cy="334.80" r="2.8499999999999996" fill="#fff" stroke="#333" stroke-width="1"/>
<text x="235.60" y="338.70" font-size="11.6" font-style="italic" fill="#111">TcMgat4</text>
<path d="M214.10,349.60h19.4" stroke="#111" stroke-width="1.5"/>
<circle cx="223.80" cy="349.60" r="3.3" fill="#111"/>
<text x="235.60" y="353.50" font-size="11.6" font-style="italic" fill="#111">TcMgat2</text>
<path d="M377.00,328.40V460.80H517.70M377.00,460.80h3M377.00,441.89h3M377.00,422.97h3M377.00,404.06h3M377.00,385.14h3M377.00,366.23h3M377.00,347.31h3M377.00,328.40h3M394.59,460.80v-3M412.18,460.80v-3M429.76,460.80v-3M447.35,460.80v-3M464.94,460.80v-3M482.53,460.80v-3M500.11,460.80v-3M517.70,460.80v-3" fill="none" stroke="#000" stroke-width="1.5" stroke-linejoin="round"/>
<text x="367.30" y="465.00" font-size="11.5" text-anchor="end" fill="#222">0</text>
<text x="367.30" y="446.09" font-size="11.5" text-anchor="end" fill="#222">5</text>
<text x="367.30" y="427.17" font-size="11.5" text-anchor="end" fill="#222">10</text>
<text x="367.30" y="408.26" font-size="11.5" text-anchor="end" fill="#222">15</text>
<text x="367.30" y="389.34" font-size="11.5" text-anchor="end" fill="#222">20</text>
<text x="367.30" y="370.43" font-size="11.5" text-anchor="end" fill="#222">25</text>
<text x="367.30" y="351.51" font-size="11.5" text-anchor="end" fill="#222">30</text>
<text x="367.30" y="332.60" font-size="11.5" text-anchor="end" fill="#222">35</text>
<text transform="translate(389.89,466.40) rotate(-90) scale(1.05,1)" font-size="11.2" text-anchor="end" fill="#222">L2</text>
<text transform="translate(407.48,466.40) rotate(-90) scale(1.05,1)" font-size="11.2" text-anchor="end" fill="#222">L4</text>
<text transform="translate(425.07,466.40) rotate(-90) scale(1.05,1)" font-size="11.2" text-anchor="end" fill="#222">L6</text>
<text transform="translate(442.66,466.40) rotate(-90) scale(1.05,1)" font-size="11.2" text-anchor="end" fill="#222">PP</text>
<text transform="translate(460.24,466.40) rotate(-90) scale(1.05,1)" font-size="11.2" text-anchor="end" fill="#222">EP</text>
<text transform="translate(477.83,466.40) rotate(-90) scale(1.05,1)" font-size="11.2" text-anchor="end" fill="#222">LP</text>
<text transform="translate(495.42,466.40) rotate(-90) scale(1.05,1)" font-size="11.2" text-anchor="end" fill="#222">PA</text>
<text transform="translate(513.01,466.40) rotate(-90) scale(1.05,1)" font-size="11.2" text-anchor="end" fill="#222">MA</text>
<polyline points="385.79,456.70 403.38,456.10 420.97,455.40 438.56,456.10 456.14,452.80 473.73,452.80 491.32,453.70 508.91,454.10" fill="none" stroke="#727272" stroke-width="1.5"/>
<polyline points="385.79,456.70 403.38,454.10 420.97,450.20 438.56,424.80 456.14,396.50 473.73,436.90 491.32,437.20 508.91,443.00" fill="none" stroke="#111" stroke-width="1.5"/>
<circle cx="385.79" cy="457.10" r="3.3" fill="#111"/>
<circle cx="403.38" cy="448.50" r="3.3" fill="#111"/>
<circle cx="403.38" cy="454.10" r="3.3" fill="#111"/>
<circle cx="420.97" cy="447.60" r="3.3" fill="#111"/>
<circle cx="420.97" cy="449.60" r="3.3" fill="#111"/>
<circle cx="438.56" cy="410.20" r="3.3" fill="#111"/>
<circle cx="438.56" cy="422.80" r="3.3" fill="#111"/>
<circle cx="438.56" cy="432.60" r="3.3" fill="#111"/>
<circle cx="456.14" cy="362.00" r="3.3" fill="#111"/>
<circle cx="456.14" cy="369.50" r="3.3" fill="#111"/>
<circle cx="456.14" cy="430.90" r="3.3" fill="#111"/>
<circle cx="473.73" cy="427.00" r="3.3" fill="#111"/>
<circle cx="473.73" cy="436.90" r="3.3" fill="#111"/>
<circle cx="473.73" cy="443.40" r="3.3" fill="#111"/>
<circle cx="491.32" cy="414.60" r="3.3" fill="#111"/>
<circle cx="491.32" cy="434.60" r="3.3" fill="#111"/>
<circle cx="491.32" cy="449.30" r="3.3" fill="#111"/>
<circle cx="508.91" cy="434.20" r="3.3" fill="#111"/>
<circle cx="508.91" cy="445.90" r="3.3" fill="#111"/>
<circle cx="385.79" cy="456.70" r="2.8499999999999996" fill="#fff" stroke="#333" stroke-width="1"/>
<circle cx="385.79" cy="457.40" r="2.8499999999999996" fill="#fff" stroke="#333" stroke-width="1"/>
<circle cx="403.38" cy="456.70" r="2.8499999999999996" fill="#fff" stroke="#333" stroke-width="1"/>
<circle cx="403.38" cy="457.40" r="2.8499999999999996" fill="#fff" stroke="#333" stroke-width="1"/>
<circle cx="420.97" cy="452.80" r="2.8499999999999996" fill="#fff" stroke="#333" stroke-width="1"/>
<circle cx="420.97" cy="455.40" r="2.8499999999999996" fill="#fff" stroke="#333" stroke-width="1"/>
<circle cx="438.56" cy="455.40" r="2.8499999999999996" fill="#fff" stroke="#333" stroke-width="1"/>
<circle cx="438.56" cy="456.10" r="2.8499999999999996" fill="#fff" stroke="#333" stroke-width="1"/>
<circle cx="456.14" cy="451.50" r="2.8499999999999996" fill="#fff" stroke="#333" stroke-width="1"/>
<circle cx="456.14" cy="453.50" r="2.8499999999999996" fill="#fff" stroke="#333" stroke-width="1"/>
<circle cx="473.73" cy="452.80" r="2.8499999999999996" fill="#fff" stroke="#333" stroke-width="1"/>
<circle cx="491.32" cy="453.20" r="2.8499999999999996" fill="#fff" stroke="#333" stroke-width="1"/>
<circle cx="491.32" cy="454.80" r="2.8499999999999996" fill="#fff" stroke="#333" stroke-width="1"/>
<circle cx="508.91" cy="452.80" r="2.8499999999999996" fill="#fff" stroke="#333" stroke-width="1"/>
<circle cx="508.91" cy="455.80" r="2.8499999999999996" fill="#fff" stroke="#333" stroke-width="1"/>
<path d="M385.10,332.20h19.4" stroke="#727272" stroke-width="1.5"/>
<circle cx="394.80" cy="332.20" r="2.8499999999999996" fill="#fff" stroke="#333" stroke-width="1"/>
<text x="406.60" y="336.10" font-size="11.6" font-style="italic" fill="#111">Tcβ4GalNAcTB</text>
<path d="M385.10,347.00h19.4" stroke="#111" stroke-width="1.5"/>
<circle cx="394.80" cy="347.00" r="3.3" fill="#111"/>
<text x="406.60" y="350.90" font-size="11.6" font-style="italic" fill="#111">Tcβ4GalNAcTA</text>
<path d="M541.30,328.40V460.80H684.40M541.30,460.80h3M541.30,434.32h3M541.30,407.84h3M541.30,381.36h3M541.30,354.88h3M541.30,328.40h3M559.19,460.80v-3M577.07,460.80v-3M594.96,460.80v-3M612.85,460.80v-3M630.74,460.80v-3M648.62,460.80v-3M666.51,460.80v-3M684.40,460.80v-3" fill="none" stroke="#000" stroke-width="1.5" stroke-linejoin="round"/>
<text x="531.60" y="465.00" font-size="11.5" text-anchor="end" fill="#222">0</text>
<text x="531.60" y="438.52" font-size="11.5" text-anchor="end" fill="#222">2</text>
<text x="531.60" y="412.04" font-size="11.5" text-anchor="end" fill="#222">4</text>
<text x="531.60" y="385.56" font-size="11.5" text-anchor="end" fill="#222">6</text>
<text x="531.60" y="359.08" font-size="11.5" text-anchor="end" fill="#222">8</text>
<text x="531.60" y="332.60" font-size="11.5" text-anchor="end" fill="#222">10</text>
<text transform="translate(554.34,466.40) rotate(-90) scale(1.05,1)" font-size="11.2" text-anchor="end" fill="#222">L2</text>
<text transform="translate(572.23,466.40) rotate(-90) scale(1.05,1)" font-size="11.2" text-anchor="end" fill="#222">L4</text>
<text transform="translate(590.12,466.40) rotate(-90) scale(1.05,1)" font-size="11.2" text-anchor="end" fill="#222">L6</text>
<text transform="translate(608.01,466.40) rotate(-90) scale(1.05,1)" font-size="11.2" text-anchor="end" fill="#222">PP</text>
<text transform="translate(625.89,466.40) rotate(-90) scale(1.05,1)" font-size="11.2" text-anchor="end" fill="#222">EP</text>
<text transform="translate(643.78,466.40) rotate(-90) scale(1.05,1)" font-size="11.2" text-anchor="end" fill="#222">LP</text>
<text transform="translate(661.67,466.40) rotate(-90) scale(1.05,1)" font-size="11.2" text-anchor="end" fill="#222">PA</text>
<text transform="translate(679.56,466.40) rotate(-90) scale(1.05,1)" font-size="11.2" text-anchor="end" fill="#222">MA</text>
<polyline points="550.24,448.00 568.13,451.50 586.02,434.20 603.91,426.70 621.79,398.00 639.68,406.50 657.57,403.40 675.46,405.20" fill="none" stroke="#727272" stroke-width="1.5"/>
<polyline points="550.24,448.00 568.13,452.20 586.02,449.60 603.91,445.00 621.79,434.70 639.68,431.80 657.57,433.60 675.46,437.80" fill="none" stroke="#111" stroke-width="1.5"/>
<circle cx="550.24" cy="448.30" r="3.3" fill="#111"/>
<circle cx="568.13" cy="449.60" r="3.3" fill="#111"/>
<circle cx="568.13" cy="451.50" r="3.3" fill="#111"/>
<circle cx="586.02" cy="448.30" r="3.3" fill="#111"/>
<circle cx="586.02" cy="450.20" r="3.3" fill="#111"/>
<circle cx="586.02" cy="452.20" r="3.3" fill="#111"/>
<circle cx="603.91" cy="440.70" r="3.3" fill="#111"/>
<circle cx="603.91" cy="443.70" r="3.3" fill="#111"/>
<circle cx="603.91" cy="446.70" r="3.3" fill="#111"/>
<circle cx="621.79" cy="428.70" r="3.3" fill="#111"/>
<circle cx="621.79" cy="434.20" r="3.3" fill="#111"/>
<circle cx="621.79" cy="437.20" r="3.3" fill="#111"/>
<circle cx="639.68" cy="426.40" r="3.3" fill="#111"/>
<circle cx="639.68" cy="430.50" r="3.3" fill="#111"/>
<circle cx="639.68" cy="435.10" r="3.3" fill="#111"/>
<circle cx="657.57" cy="430.50" r="3.3" fill="#111"/>
<circle cx="657.57" cy="437.80" r="3.3" fill="#111"/>
<circle cx="675.46" cy="436.00" r="3.3" fill="#111"/>
<circle cx="675.46" cy="439.00" r="3.3" fill="#111"/>
<circle cx="550.24" cy="443.00" r="2.8499999999999996" fill="#fff" stroke="#333" stroke-width="1"/>
<circle cx="550.24" cy="445.60" r="2.8499999999999996" fill="#fff" stroke="#333" stroke-width="1"/>
<circle cx="550.24" cy="448.00" r="2.8499999999999996" fill="#fff" stroke="#333" stroke-width="1"/>
<circle cx="550.24" cy="451.10" r="2.8499999999999996" fill="#fff" stroke="#333" stroke-width="1"/>
<circle cx="568.13" cy="445.00" r="2.8499999999999996" fill="#fff" stroke="#333" stroke-width="1"/>
<circle cx="568.13" cy="455.40" r="2.8499999999999996" fill="#fff" stroke="#333" stroke-width="1"/>
<circle cx="586.02" cy="425.00" r="2.8499999999999996" fill="#fff" stroke="#333" stroke-width="1"/>
<circle cx="586.02" cy="432.90" r="2.8499999999999996" fill="#fff" stroke="#333" stroke-width="1"/>
<circle cx="586.02" cy="440.20" r="2.8499999999999996" fill="#fff" stroke="#333" stroke-width="1"/>
<circle cx="603.91" cy="418.30" r="2.8499999999999996" fill="#fff" stroke="#333" stroke-width="1"/>
<circle cx="603.91" cy="425.00" r="2.8499999999999996" fill="#fff" stroke="#333" stroke-width="1"/>
<circle cx="603.91" cy="433.30" r="2.8499999999999996" fill="#fff" stroke="#333" stroke-width="1"/>
<circle cx="621.79" cy="365.90" r="2.8499999999999996" fill="#fff" stroke="#333" stroke-width="1"/>
<circle cx="621.79" cy="407.00" r="2.8499999999999996" fill="#fff" stroke="#333" stroke-width="1"/>
<circle cx="621.79" cy="412.50" r="2.8499999999999996" fill="#fff" stroke="#333" stroke-width="1"/>
<circle cx="639.68" cy="394.20" r="2.8499999999999996" fill="#fff" stroke="#333" stroke-width="1"/>
<circle cx="639.68" cy="406.50" r="2.8499999999999996" fill="#fff" stroke="#333" stroke-width="1"/>
<circle cx="639.68" cy="417.40" r="2.8499999999999996" fill="#fff" stroke="#333" stroke-width="1"/>
<circle cx="657.57" cy="396.20" r="2.8499999999999996" fill="#fff" stroke="#333" stroke-width="1"/>
<circle cx="657.57" cy="403.40" r="2.8499999999999996" fill="#fff" stroke="#333" stroke-width="1"/>
<circle cx="657.57" cy="408.90" r="2.8499999999999996" fill="#fff" stroke="#333" stroke-width="1"/>
<circle cx="675.46" cy="396.20" r="2.8499999999999996" fill="#fff" stroke="#333" stroke-width="1"/>
<circle cx="675.46" cy="399.80" r="2.8499999999999996" fill="#fff" stroke="#333" stroke-width="1"/>
<circle cx="675.46" cy="417.40" r="2.8499999999999996" fill="#fff" stroke="#333" stroke-width="1"/>
<path d="M545.40,334.80h19.4" stroke="#727272" stroke-width="1.5"/>
<circle cx="555.10" cy="334.80" r="2.8499999999999996" fill="#fff" stroke="#333" stroke-width="1"/>
<text x="566.90" y="338.70" font-size="11.6" font-style="italic" fill="#111">TcCsas</text>
<path d="M545.40,349.60h19.4" stroke="#111" stroke-width="1.5"/>
<circle cx="555.10" cy="349.60" r="3.3" fill="#111"/>
<text x="566.90" y="353.50" font-size="11.6" font-style="italic" fill="#111">TcST6Gal</text>
<text transform="translate(11.9,341.2) rotate(-90)" font-size="14.5" fill="#111">Expression relative to 2<tspan font-size="9.5" dy="-5">nd</tspan><tspan dy="5"> instar larvae</tspan></text>
<rect x="98.50" y="0" width="47.10" height="498" fill="#000" fill-opacity="0.203"/>
<rect x="263.50" y="0" width="47.10" height="498" fill="#000" fill-opacity="0.203"/>
<rect x="433.00" y="0" width="47.20" height="498" fill="#000" fill-opacity="0.203"/>
<rect x="598.50" y="0" width="47.10" height="498" fill="#000" fill-opacity="0.203"/>
</svg></body></html>
